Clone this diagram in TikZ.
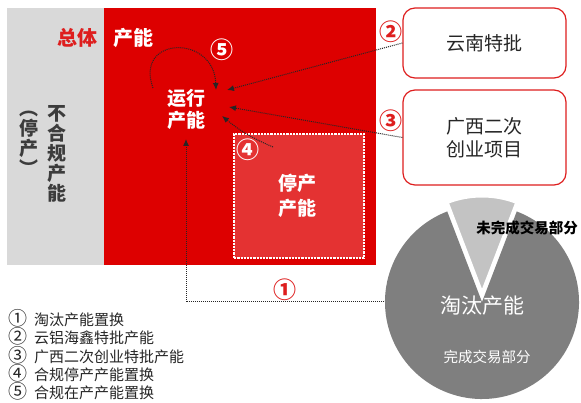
\documentclass[tikz,border=0pt]{standalone}
\usepackage{fontspec}
\setmainfont{Noto Sans CJK SC}
\usetikzlibrary{arrows.meta}
\definecolor{bigred}{RGB}{221,0,0}
\definecolor{stopred}{RGB}{228,50,50}
\definecolor{lgray}{RGB}{217,217,217}
\definecolor{pdark}{RGB}{127,127,127}
\definecolor{plight}{RGB}{195,195,195}
\definecolor{txt}{RGB}{38,38,38}
\definecolor{numred}{RGB}{222,30,30}
\begin{document}
\begin{tikzpicture}[x=1pt,y=-1pt,
  flow/.style={densely dotted, line width=1pt, black!85, -{Latex[length=7pt,width=6pt]}},
  wtext/.style={text=white, font=\fontsize{19}{22}\selectfont\bfseries, align=center, inner sep=0pt},
  vtext/.style={text=txt!90, font=\fontsize{19}{20}\selectfont\bfseries, align=center, inner sep=0pt},
  num/.style={font=\fontsize{23}{23}\selectfont\bfseries, inner sep=0pt},
  rbox/.style={draw=numred, line width=1.2pt, rounded corners=12pt, fill=white, text=txt, font=\fontsize{19}{23}\selectfont, align=center, minimum width=163pt, inner sep=0pt},
  legend/.style={anchor=west, text=txt, font=\fontsize{15}{16}\selectfont, inner sep=0pt}]
\useasboundingbox (0,0) rectangle (581,403);
\fill[white] (0,0) rectangle (581,403);
% background panels
\node[fill=lgray, minimum width=97pt, minimum height=257pt, inner sep=0pt, anchor=north west] (grayp) at (7,8) {};
\node[fill=bigred, minimum width=272pt, minimum height=257pt, inner sep=0pt, anchor=north west] (redp) at (104,8) {};
\node[fill=stopred, draw=white, densely dotted, line width=2.2pt, minimum width=130pt, minimum height=124pt, inner sep=0pt, anchor=north west] (stopbox) at (233,133) {};
\node[wtext, text=white, font=\fontsize{19}{25}\selectfont\bfseries] (stoptxt) at (297,196) {停产\\产能};
% titles
\node[text=numred, font=\fontsize{20}{20}\selectfont\bfseries, inner sep=0pt] (zt) at (77,38) {总体};
\node[text=white, font=\fontsize{20}{20}\selectfont\bfseries, inner sep=0pt] (cn) at (133,38) {产能};
\node[vtext] (bhg) at (57,154) {不\\合\\规\\产\\能};
\node[vtext] (tc) at (29,143) {︵\\停\\产\\︶};
\node[wtext, font=\fontsize{19}{22}\selectfont\bfseries] (run) at (186,109) {运行\\产能};
% right boxes
\node[rbox, minimum height=70pt] (yn) at (484.5,43) {云南特批};
\node[rbox, minimum height=95pt] (gx) at (484.5,137.5) {广西二次\\创业项目};
% numbers
\node[num, text=white] (n5) at (222,50) {⑤};
\node[num, text=white] (n4) at (248,150) {④};
\node[num, text=numred] (n2) at (391,32) {②};
\node[num, text=numred] (n3) at (391,121) {③};
\node[num, text=numred] (n1) at (285,290) {①};
% arrow targets
\coordinate (t1) at (186,139);
\coordinate (t2) at (227,90);
\coordinate (t3) at (229,107);
\coordinate (t4) at (222,116);
\coordinate (s4) at (273,147);
\coordinate (c1) at (186,302);
\coordinate (pw) at (400,302);
\coordinate (ls) at (153,88);
\coordinate (le) at (216,90);
% connectors
\draw[flow] (yn.west) -- (t2);
\draw[flow] (gx.west) -- (t3);
\draw[flow] (s4) to[bend left=8] (t4);
\draw[flow] (ls) .. controls (134,36) and (214,34) .. (le);
\draw[flow] (pw) -- (c1) -- (t1);
% pie
\coordinate (pc) at (482,302);
\coordinate (pl) at (482,293);
\fill[pdark] (pc) -- ++(291:97) arc[start angle=291, end angle=609, radius=97] -- cycle;
\filldraw[fill=plight, draw=white, line width=3pt, line join=round] (pl) -- ++(249:97) arc[start angle=249, end angle=291, radius=97] -- cycle;
\node[text=black, font=\fontsize{14.5}{16}\selectfont\bfseries, inner sep=0pt] (wwc) at (527,228) {未完成交易部分};
\node[text=white, font=\fontsize{21}{22}\selectfont, inner sep=0pt] (tt) at (482,306) {淘汰产能};
\node[text=white, font=\fontsize{14.5}{16}\selectfont, inner sep=0pt] (wc) at (487,357) {完成交易部分};
% legend
\node[legend] (l1) at (8,318) {\makebox[26pt][l]{\fontsize{19}{16}\selectfont ①}淘汰产能置换};
\node[legend] (l2) at (8,336.5) {\makebox[26pt][l]{\fontsize{19}{16}\selectfont ②}云铝海鑫特批产能};
\node[legend] (l3) at (8,355) {\makebox[26pt][l]{\fontsize{19}{16}\selectfont ③}广西二次创业特批产能};
\node[legend] (l4) at (8,373) {\makebox[26pt][l]{\fontsize{19}{16}\selectfont ④}合规停产产能置换};
\node[legend] (l5) at (8,391) {\makebox[26pt][l]{\fontsize{19}{16}\selectfont ⑤}合规在产产能置换};
\end{tikzpicture}
\end{document}
